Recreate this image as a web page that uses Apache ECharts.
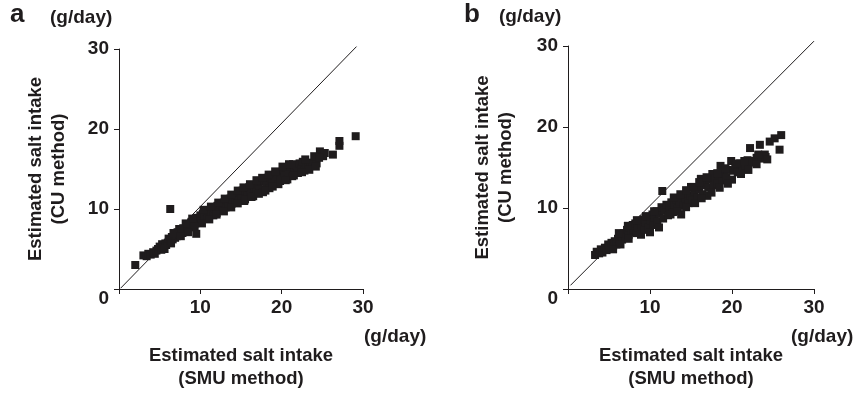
<!DOCTYPE html>
<html>
<head>
<meta charset="utf-8">
<script src="https://cdn.jsdelivr.net/npm/echarts@6/dist/echarts.min.js"></script>
<style>
html,body{margin:0;padding:0;background:#fff;}
#chart{width:854px;height:395px;}
</style>
</head>
<body>
<div id="chart"></div>
<script>
// ---- data ----
const axisTicks = [0, 10, 20, 30];
const xNameText = 'Estimated salt intake\n(SMU method)';
const yNameText = 'Estimated salt intake\n(CU method)';
const unitText = '(g/day)';
const panelLabels = ['a', 'b'];

// Panel a: SMU (x) vs CU (y)
const pointsA = [
  [2.0,3.0],[6.3,10.0],[9.5,6.9],
  [3.0,4.2],[3.4,4.1],[3.6,4.4],[3.9,4.3],[4.2,4.6],[4.4,4.4],[4.6,4.8],
  [4.8,5.0],[5.0,5.3],[5.2,4.9],[5.3,5.6],[5.5,5.2],[5.7,5.7],[5.8,5.5],
  [6.0,5.8],[6.1,6.3],[6.3,6.0],[6.5,6.5],[6.6,6.2],[6.8,6.8],[6.9,6.4],
  [7.1,6.6],[7.2,7.1],[7.4,6.8],[7.6,7.3],[7.8,7.0],[7.9,7.6],[8.1,7.2],
  [8.3,7.8],[8.4,7.4],[8.6,8.1],[8.8,7.7],[8.9,8.4],[9.1,7.9],[9.3,8.6],
  [9.4,8.2],[9.6,8.9],[9.8,8.4],[10.0,9.2],[10.1,8.6],[10.3,9.4],[10.5,8.9],
  [10.7,9.7],[10.9,9.1],[11.0,9.8],[11.2,9.3],[11.4,9.6],[11.6,9.2],[11.8,10.1],
  [12.0,9.5],[12.1,10.4],[12.3,9.8],[12.5,10.6],[12.7,10.1],[12.9,10.8],[13.1,10.2],
  [13.3,11.0],[13.5,10.5],[13.7,11.3],[13.9,10.7],[14.1,11.5],[14.3,10.9],[14.5,11.7],
  [14.7,11.1],[14.9,12.0],[15.1,11.4],[15.2,12.3],[15.4,11.0],[15.6,12.5],[15.8,11.7],
  [16.0,12.7],[16.2,11.9],[16.4,12.9],[16.5,11.6],[16.7,12.6],[16.9,12.2],[17.1,13.1],
  [17.3,12.4],[17.5,13.4],[17.7,12.1],[17.9,13.6],[18.1,12.9],[18.3,13.9],[18.5,12.6],
  [18.7,13.5],[18.9,13.2],[19.1,14.2],[19.3,13.5],[19.5,14.5],[19.6,13.1],[19.8,14.1],
  [20.0,13.8],[20.2,14.9],[20.4,14.2],[20.6,15.2],[20.7,13.7],[20.9,14.6],[21.1,15.3],
  [21.3,14.1],[21.4,15.6],[21.6,14.8],[21.8,15.4],[22.0,14.5],[22.2,15.7],[22.4,15.1],
  [22.6,15.9],[22.8,14.8],[23.0,15.5],[23.3,15.2],[23.5,15.8],[23.8,15.5],[24.1,16.1],
  [24.3,15.7],[24.7,17.2],[25.1,16.6],[25.3,17.0],[26.3,16.8],[27.1,17.9],[27.1,18.5],
  [29.1,19.1],
  [10.4,9.9],[11.3,10.3],[12.2,10.8],[13.0,11.3],[13.8,11.8],[14.6,12.3],[15.3,12.7],
  [16.1,13.1],[16.9,13.6],[17.6,13.9],[18.4,14.3],[19.2,14.7],[20.1,15.3],[20.9,15.6],
  [22.9,16.2],[24.0,16.6],[24.6,16.4],[9.0,8.8],[8.2,8.2],[7.4,7.5],[6.7,7.0],
  [10.2,8.2],[11.1,8.7],[12.0,9.3],[12.9,9.7],[13.8,10.2],[14.6,10.7],[15.5,11.2],
  [16.3,11.5],[17.2,11.9],[18.0,12.3],[18.9,12.8],[19.8,13.5],[20.5,13.6],[21.5,14.2],
  [22.5,14.6],[23.4,14.9],[24.2,15.3],[9.3,7.8],[8.5,7.1],[7.6,6.6],[6.4,5.7],[5.6,5.0]
];

// Panel b: SMU (x) vs CU (y)
const pointsB = [
  [3.3,4.2],[3.5,4.6],[3.8,4.4],[4.0,4.9],[4.2,4.5],[4.5,5.1],[4.7,4.8],[4.9,5.5],
  [5.1,5.0],[5.3,5.7],[5.5,5.3],[5.7,5.9],[5.9,5.5],[6.1,6.2],[6.3,5.8],[6.5,6.6],
  [6.6,6.1],[6.8,6.9],[7.0,6.4],[7.2,7.3],[7.4,6.7],[7.5,7.6],[7.7,7.0],[7.9,7.9],
  [8.0,7.3],[8.2,8.1],[8.4,6.9],[8.5,7.6],[8.7,8.4],[8.9,6.7],[9.0,7.9],[9.2,8.6],
  [9.3,7.3],[9.5,8.2],[9.7,8.9],[9.8,7.6],[10.0,7.0],[10.1,8.5],[10.3,9.2],[10.4,7.9],
  [10.6,8.8],[10.8,9.6],[10.9,8.3],[11.1,7.6],[11.2,9.3],[11.4,10.1],[11.5,12.1],[11.6,8.7],
  [11.8,9.7],[12.0,10.4],[12.2,9.1],[12.4,10.0],[12.6,10.7],[12.8,9.5],[13.0,10.4],[13.2,11.1],
  [13.4,9.9],[13.6,10.8],[13.8,9.2],[13.9,11.5],[14.1,10.3],[14.3,11.2],[14.5,11.8],[14.7,10.6],
  [14.9,11.5],[15.0,12.6],[15.2,10.9],[15.4,12.0],[15.6,12.5],[15.8,11.3],[16.0,12.3],[16.2,13.6],
  [16.4,11.7],[16.6,12.8],[16.8,13.2],[17.0,11.5],[17.1,12.5],[17.3,13.5],[17.6,14.2],[17.8,12.8],
  [18.0,13.7],[18.2,13.0],[18.4,14.1],[18.6,15.2],[18.8,13.4],[19.0,14.3],[19.3,13.8],[19.5,14.7],
  [19.9,15.8],[20.0,13.5],[20.2,14.6],[20.4,15.3],[20.7,14.4],[21.0,15.5],[21.3,14.9],[21.7,15.2],
  [21.9,15.9],[22.2,17.4],[22.4,15.6],[22.7,15.8],[23.0,16.2],[23.4,17.8],[23.6,16.1],[24.0,16.6],
  [24.1,16.3],[24.6,18.2],[25.2,18.6],[25.8,17.2],[26.0,19.0],
  [12.9,11.3],[13.7,11.7],[14.4,12.2],[15.3,12.6],[16.0,13.2],[16.9,13.8],[18.2,14.3],
  [19.2,14.9],[20.6,15.5],[21.5,15.8],[23.2,16.6],[10.5,9.6],[9.5,9.0],[8.4,8.5],[7.3,7.8],[6.2,6.9],
  [12.5,9.2],[13.3,9.6],[14.4,10.1],[15.5,10.6],[16.3,11.2],[17.5,11.9],[18.5,12.5],[19.5,13.0],
  [21.1,14.2],[22.0,14.7],[23.0,15.4],[24.3,16.0],[5.5,4.9],[6.4,5.5],[7.4,6.2]
];

// identity (line of equality) endpoints as drawn in each panel
const diagA = [[0.2,0.1],[29.2,30.3]];
const diagB = [[0.3,0.45],[30.0,30.6]];

// ---- styling ----
const INK = '#1f1c1d';
const FONT = '"Liberation Sans", Arial, Helvetica, sans-serif';
const FS = 19;
const NFS = 18.5;

function xAxisFor(gridIndex) {
  return {
    type: 'value', gridIndex, min: axisTicks[0], max: axisTicks[axisTicks.length-1], interval: 10,
    name: xNameText, nameLocation: 'middle', nameGap: 55,
    nameTextStyle: {color: INK, fontFamily: FONT, fontWeight: 'bold', fontSize: NFS, lineHeight: 23},
    axisLine: {show: true, lineStyle: {color: INK, width: 1}},
    axisTick: {show: true, length: 5, lineStyle: {color: INK, width: 1}},
    axisLabel: {color: INK, fontFamily: FONT, fontWeight: 'bold', fontSize: FS, margin: 9,
      formatter: v => v === 0 ? '' : String(v)},
    splitLine: {show: false}
  };
}
function yAxisFor(gridIndex, gap) {
  return {
    type: 'value', gridIndex, min: axisTicks[0], max: axisTicks[axisTicks.length-1], interval: 10,
    name: yNameText, nameLocation: 'middle', nameGap: gap, nameRotate: 90,
    nameTextStyle: {color: INK, fontFamily: FONT, fontWeight: 'bold', fontSize: NFS, lineHeight: 23},
    axisLine: {show: true, lineStyle: {color: INK, width: 1}},
    axisTick: {show: true, length: 5, lineStyle: {color: INK, width: 1}},
    axisLabel: {color: INK, fontFamily: FONT, fontWeight: 'bold', fontSize: FS, margin: 10,
      formatter: v => v === 0 ? '{z|0}' : String(v),
      rich: {z: {color: INK, fontFamily: FONT, fontWeight: 'bold', fontSize: FS, padding: [20,0,0,0]}}},
    splitLine: {show: false}
  };
}
function scatter(i, data) {
  return {type: 'scatter', xAxisIndex: i, yAxisIndex: i, data, symbol: 'rect', symbolSize: 8,
    itemStyle: {color: INK, opacity: 1}, silent: true, animation: false};
}
function diag(i, data) {
  return {type: 'line', xAxisIndex: i, yAxisIndex: i, data, symbol: 'none', clip: false,
    lineStyle: {color: INK, width: 1}, silent: true, animation: false};
}
function txt(left, top, text, size) {
  return {type: 'text', left, top, style: {text, fill: INK, font: 'bold ' + size + 'px ' + FONT}};
}

const chart = echarts.init(document.getElementById('chart'), null, {renderer: 'canvas'});
chart.setOption({
  animation: false,
  backgroundColor: '#fff',
  grid: [
    {left: 119, top: 49, width: 244, height: 245},
    {left: 568, top: 46, width: 246, height: 247}
  ],
  xAxis: [xAxisFor(0), xAxisFor(1)],
  yAxis: [yAxisFor(0, 49), yAxisFor(1, 51)],
  series: [scatter(0, pointsA), diag(0, diagA), scatter(1, pointsB), diag(1, diagB)],
  graphic: [
    txt(10, 2, panelLabels[0], 26),
    txt(50, 8, unitText, 19),
    txt(364, 327, unitText, 19),
    txt(464, 2, panelLabels[1], 26),
    txt(499, 7, unitText, 19),
    txt(791, 327, unitText, 19)
  ]
});
</script>
</body>
</html>
